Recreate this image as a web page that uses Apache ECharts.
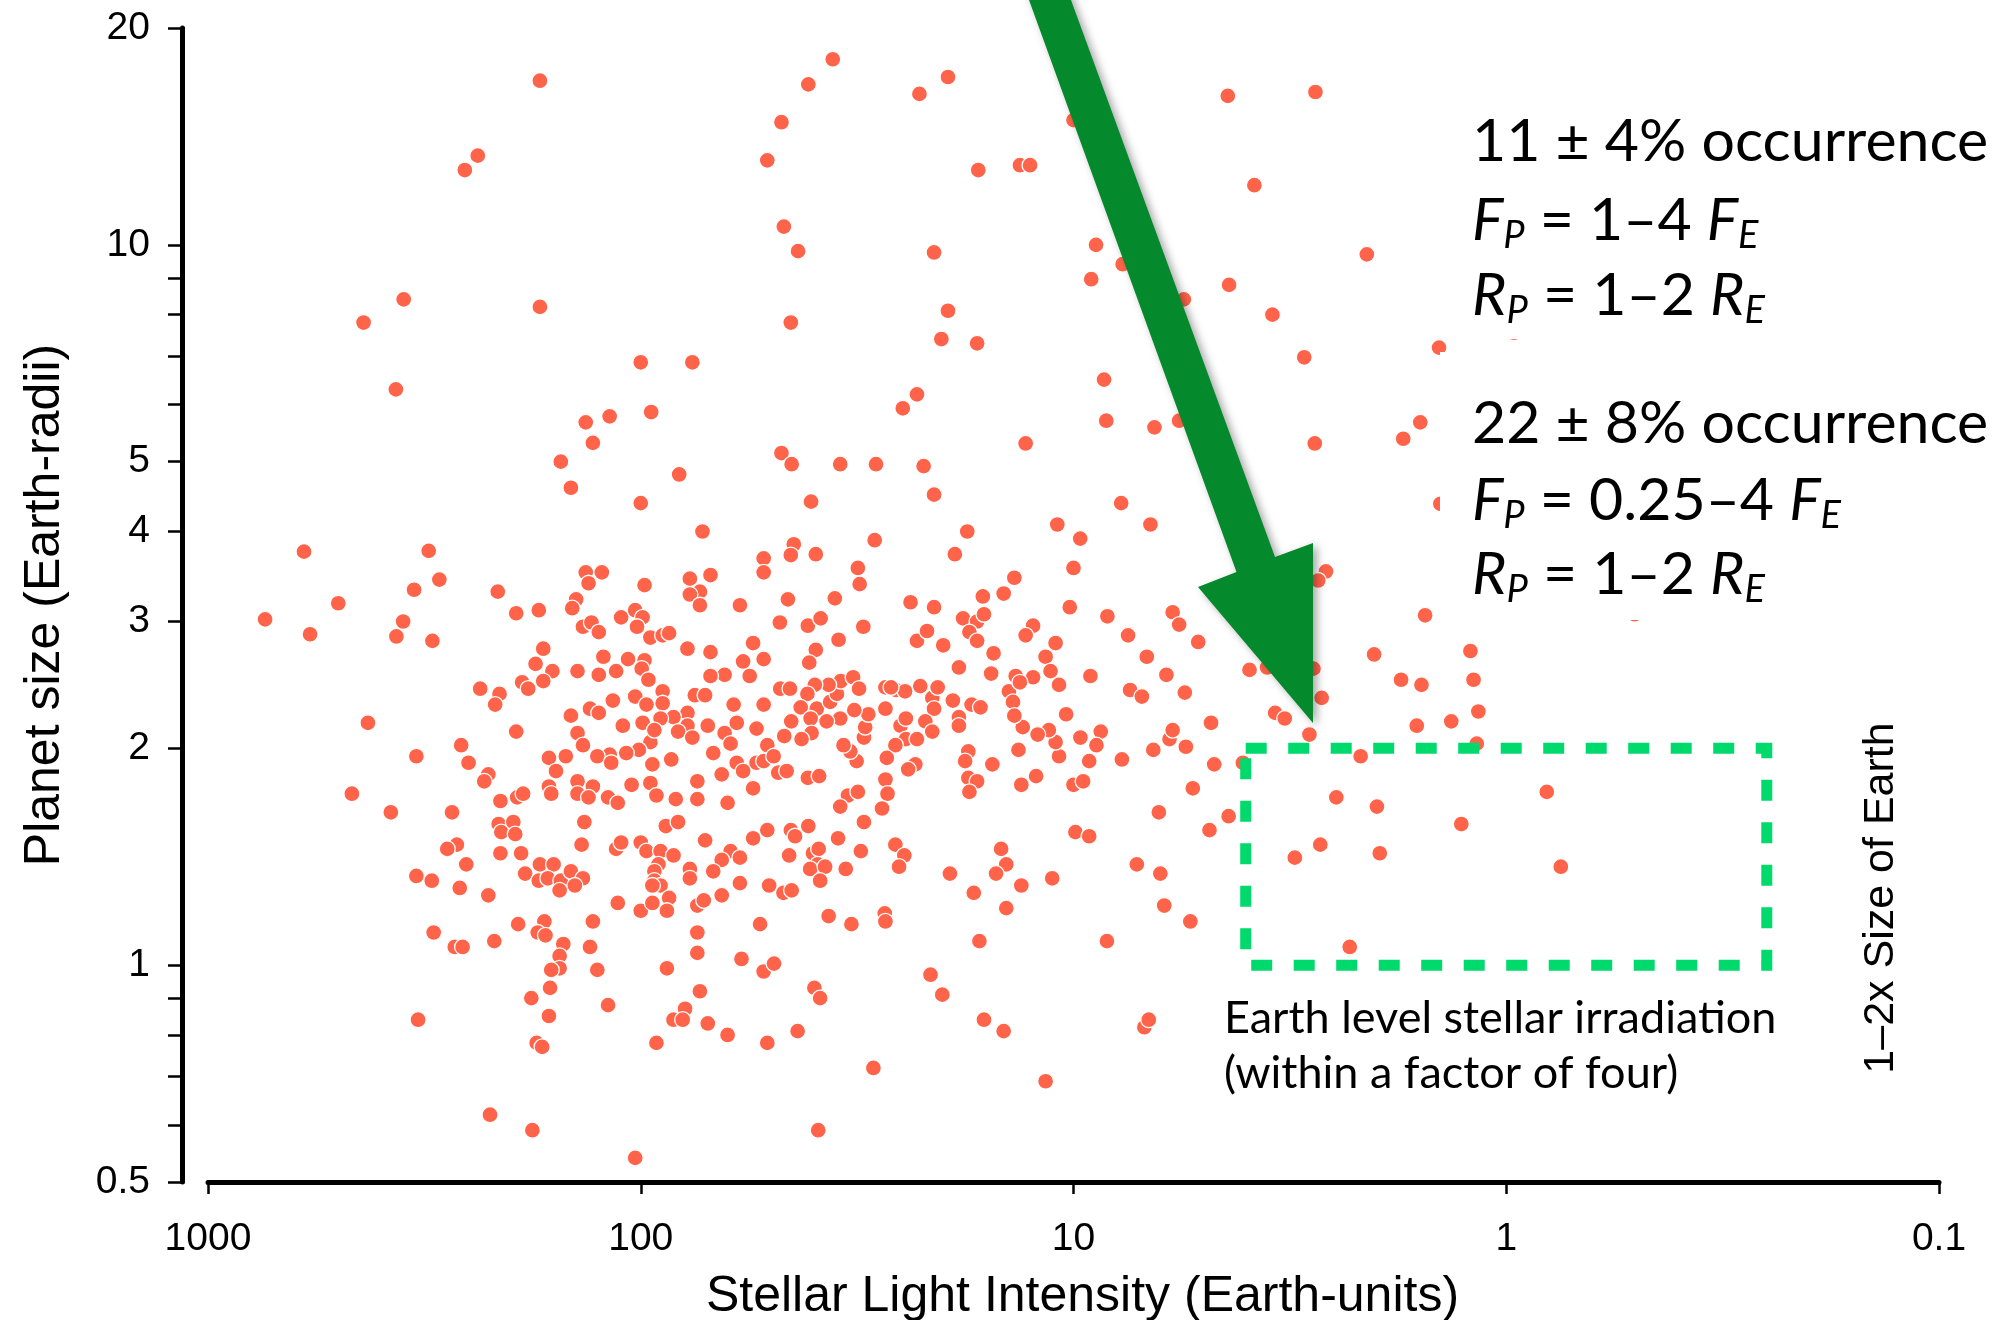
<!DOCTYPE html>
<html><head><meta charset="utf-8">
<script src="https://cdn.jsdelivr.net/npm/echarts@6/dist/echarts.min.js"></script>
<style>html,body{margin:0;padding:0;background:#fff}#chart{width:2003px;height:1320px}</style>
</head><body><div id="chart"></div>
<script>
// [stellar light intensity (Earth units), planet radius (Earth radii)]
const planetsHot = [[145,4.6],[100,4.38],[72,4.0],[600,3.75],[309,3.76],[292,3.43],[334,3.32],[500,3.18],[738,3.02],[581,2.88],
[354,3.0],[367,2.86],[303,2.82],[214,3.3],[194,3.08],[172,3.11],[134,3.51],[123,3.51],[132,3.39],[141,3.22],
[144,3.13],[98,3.37],[77,3.44],[69,3.48],[73,3.3],[77,3.27],[73,3.16],[59,3.16],[52,3.67],[52,3.51],
[136,2.95],[130,2.99],[125,2.9],[111,3.04],[103,3.11],[99,3.04],[102,2.95],[95,2.85],[89,2.87],[86,2.89],
[78,2.75],[69,2.72],[55,2.8],[58,2.64],[52,2.66],[56,2.52],[64,2.53],[69,2.52],[168,2.75],[175,2.62],
[160,2.56],[168,2.48],[188,2.47],[182,2.42],[235,2.42],[212,2.38],[217,2.3],[140,2.56],[125,2.53],[114,2.56],
[122,2.68],[107,2.66],[98,2.65],[99.5,2.58],[96,2.49],[89,2.4],[103,2.36],[97,2.3],[89,2.31],[116,2.33],
[131,2.27],[125,2.24],[145,2.22],[75,2.37],[71,2.37],[78,2.24],[84,2.21],[90,2.2],[78,2.15],[70,2.15],
[61,2.3],[60,2.17],[52,2.3],[54,2.13],[64,2.1],[62,2.03],[51,2.02],[68,1.97],[60,1.91],[54,1.91],
[58,1.86],[65,1.84],[55,1.76],[63,1.68],[74,1.7],[74,1.8],[83,1.7],[85,1.93],[94,1.9],[95,2.04],
[101,1.99],[108,1.97],[118,1.96],[126,1.95],[117,1.91],[99,2.17],[93,2.12],[110,2.15],[82,2.11],[76,2.07],
[140,2.1],[136,2.02],[149,1.95],[163,1.94],[157,1.86],[163,1.77],[161,1.73],[140,1.8],[129,1.77],[140,1.73],
[132,1.71],[119,1.71],[113,1.68],[105,1.78],[95,1.79],[92,1.72],[260,2.02],[250,1.91],[194,2.11],[225,1.84],
[230,1.8],[211,1.69],[193,1.71],[187,1.73],[427,2.17],[330,1.95],[465,1.73],[378,1.63],[273,1.63],[52,1.92]];

const planetsHotSmall = [[213,1.57],[197,1.58],[135,1.58],[266,1.47],[280,1.45],[253,1.38],[210,1.53],[195,1.52],[211,1.43],[189,1.43],
[330,1.33],[304,1.31],[262,1.28],[225,1.25],[171,1.38],[159,1.38],[185,1.34],[172,1.31],[164,1.32],[153,1.31],
[145,1.35],[136,1.32],[142,1.29],[154,1.27],[137,1.47],[114,1.45],[111,1.48],[100,1.48],[97,1.44],[90,1.44],
[84,1.42],[91,1.38],[93,1.35],[93,1.31],[90,1.29],[94,1.29],[87.5,1.56],[82,1.58],[71,1.49],[77,1.36],
[77,1.32],[62,1.44],[59,1.41],[65,1.4],[68,1.35],[59,1.3],[55,1.5],[51,1.54],[113,1.22],[100,1.19],
[94,1.22],[86,1.24],[87,1.19],[74,1.21],[71.5,1.23],[65,1.25],[50.5,1.29],[53,1.14],[74,1.11],[74,1.04],
[58.5,1.02],[52,0.98],[87,0.99],[129,1.15],[167,1.15],[192,1.14],[173,1.11],[166,1.1],[218,1.08],[301,1.11],
[269,1.06],[258,1.06],[151,1.07],[154,1.03],[154,0.99],[161,0.985],[131,1.06],[126,0.985],[162,0.93],[179,0.9],
[163,0.85],[119,0.88],[73,0.92],[79,0.87],[84,0.84],[80,0.84],[70,0.83],[63,0.8],[92,0.78],[51,0.78],
[327,0.84],[174,0.78],[169,0.77],[223,0.62],[178,0.59],[103,0.54]];

const planetsWarm = [[40.4,4.4],[21,4.5],[7.76,4.38],[10.9,4.09],[6.64,4.09],[9.65,3.91],[17.6,4.0],[28.8,3.89],[44.3,3.84],[45,3.71],
[39.4,3.72],[18.8,3.72],[10,3.56],[31.5,3.56],[31.2,3.38],[13.7,3.45],[14.5,3.28],[16.2,3.25],[10.2,3.14],[8.35,3.05],
[5.9,3.09],[5.7,2.97],[45.7,3.22],[35.6,3.23],[23.8,3.19],[21,3.14],[47.7,2.99],[41.1,2.96],[38.4,3.03],[30.6,2.95],
[34.9,2.83],[39.4,2.74],[40.8,2.63],[23,2.82],[21.8,2.91],[20,2.78],[18,3.03],[16.7,3.0],[16.1,3.07],[17.4,2.9],
[16.7,2.82],[15.3,2.71],[12.4,2.96],[12.9,2.87],[11,2.8],[11.6,2.68],[18.4,2.59],[15.5,2.54],[13.6,2.52],[12.4,2.51],
[11.3,2.56],[10.8,2.45],[14.1,2.4],[13.8,2.32],[13.3,2.47],[9.14,2.52],[7.48,2.87],[6.77,2.68],[5.15,2.81],[6.1,2.53],
[7.4,2.41],[6.95,2.36],[5.53,2.39],[3.92,2.57],[3.57,2.59],[3.42,2.24],[3.25,2.2],[4.81,2.17],[10.4,2.23],[8.65,2.11],
[9.64,2.07],[8.85,2.02],[9.2,1.92],[7.73,1.93],[10.8,1.95],[11,2.04],[11.4,2.12],[12.1,2.09],[13.1,2.14],[13.7,2.22],
[13.4,1.99],[12.2,1.83],[13.2,1.78],[10,1.78],[9.5,1.8],[15.4,1.9],[17.5,1.98],[17.8,1.92],[17.5,1.82],[16.7,1.8],
[17.4,1.74],[6.54,1.99],[6,2.06],[5.9,2.12],[5.5,2.01],[4.73,1.9],[5.3,1.76],[4.06,1.91],[6.35,1.63],[4.38,1.61],
[18.4,2.21],[19,2.33],[17.2,2.3],[16.4,2.28],[18.4,2.15],[21.2,2.35],[20.6,2.43],[21,2.27],[22,2.18],[21.2,2.11],
[22.6,2.44],[25.7,2.41],[24.5,2.4],[27.2,2.27],[25.1,2.15],[24.4,2.2],[24.4,2.06],[23,2.06],[25.8,2.02],[27,1.94],
[23.2,1.9],[24.1,1.87],[27.2,1.81],[26.9,1.73],[27.7,1.65],[33.2,1.72],[31.5,1.74],[34.6,1.66],[31.7,1.92],[32.8,1.98],
[34,2.02],[30.5,2.07],[30.3,2.14],[29.8,2.23],[32.1,2.26],[34.6,2.2],[37.2,2.18],[39.2,2.27],[36.5,2.32],[35.2,2.38],
[34.5,2.48],[32.3,2.51],[31.3,2.42],[36.8,2.45],[39.6,2.45],[41.2,2.38],[42.7,2.28],[40.5,2.2],[44.9,2.18],[47.6,2.42],
[45.2,2.42],[40.3,2.1],[42.5,2.06],[46.6,2.08],[49.3,1.95],[48.1,1.85],[46,1.86],[41.1,1.82],[38.7,1.83],[27.2,2.43],[26.4,2.43]];

const planetsWarmSmall = [[45,1.54],[44,1.51],[41,1.56],[35,1.5],[30.5,1.58],[45.4,1.42],[40,1.43],[38.8,1.45],[39,1.38],[40.6,1.36],
[37.5,1.37],[38.5,1.31],[33.6,1.36],[31,1.44],[46.8,1.26],[44.8,1.27],[25.8,1.47],[24.6,1.42],[25.3,1.37],[19.3,1.34],
[14.7,1.45],[14.3,1.38],[15.1,1.34],[13.2,1.29],[17,1.26],[14.3,1.2],[11.2,1.32],[9.9,1.53],[9.2,1.51],[7.14,1.38],
[6.3,1.34],[6.17,1.21],[5.37,1.15],[8.37,1.08],[4.85,1.54],[36.8,1.17],[32.6,1.14],[27.3,1.18],[27.2,1.15],[16.5,1.08],
[49.2,1.005],[21.4,0.97],[20.1,0.91],[39.7,0.93],[38.5,0.9],[43.4,0.81],[16.1,0.84],[14.5,0.81],[6.86,0.82],[6.7,0.84],
[29,0.72],[11.6,0.69],[38.9,0.59]];

const planetsLarge = [[171,16.9],[36,18.1],[41,16.7],[22.7,16.2],[19.5,17.1],[47.3,14.8],[51,13.1],[238,13.3],[255,12.7],[16.6,12.7],
[13.3,12.9],[12.6,12.9],[46.7,10.6],[43.3,9.8],[21,9.76],[4.4,16.1],[2.76,16.3],[3.82,12.1],[2.1,9.7],[8.87,10],
[10,14.9],[7.7,9.4],[9.1,8.96],[4.37,8.8],[5.56,8.4],[3.47,8.0],[1.43,7.2],[0.96,7.55],[2.93,6.98],[8.5,6.5],
[8.4,5.7],[6.5,5.58],[5.7,5.7],[12.9,5.3],[2.77,5.3],[1.58,5.67],[1.73,5.38],[1.42,4.37],[2.61,3.52],[2.72,3.42],
[1.54,3.06],[437,7.8],[353,8.4],[171,8.2],[368,6.3],[134,5.67],[118,5.78],[129,5.31],[153,5.0],[94.6,5.86],
[100,6.87],[76,6.87],[81.5,4.8],[47.3,5.14],[44.8,4.96],[34.6,4.96],[28.6,4.96],[22.2,4.93],[45,7.8],[24.8,5.93],
[23,6.2],[19.5,8.1],[20.2,7.4],[16.7,7.3]];

const planetsCool = [[2.67,2.35],[2.02,2.7],[2.17,1.95],[1.75,2.49],[1.57,2.45],[1.21,2.73],[1.19,2.49],[1.16,2.25],[1.34,2.18],[1.61,2.15],
[1.17,2.03],[2.47,1.71],[1.99,1.66],[2.69,1.47],[3.08,1.41],[1.96,1.43],[1.27,1.57],[0.806,1.74],[0.748,1.37],[2.3,1.06],
[2.85,2.09],[2.79,2.58],[0.505,3.07]];

const xTickValues = [1000, 100, 10, 1, 0.1];
const yTickValues = [0.5, 0.6, 0.7, 0.8, 0.9, 1, 2, 3, 4, 5, 6, 7, 8, 9, 10, 20];
const yLabelValues = [0.5, 1, 2, 3, 4, 5, 10, 20];
// Earth-like zone: flux 0.25–4 F_E, radius 1–2 R_E
const boxFlux = [4, 0.25, 0.25, 4, 4];
const boxRadius = [2, 2, 1, 1, 2];

const allPoints = [].concat(planetsHot, planetsHotSmall, planetsWarm, planetsWarmSmall, planetsLarge, planetsCool);
const fmt = v => String(+Math.pow(10, v).toPrecision(2));

const chart = echarts.init(document.getElementById('chart'), null, {width: 2003, height: 1320});
const baseFont = 'Liberation Sans, Arial, sans-serif';
const annFont = 'Lato, sans-serif';
const annSize = 59;
const sub = {fontSize: 38, fontStyle: 'italic', fontFamily: annFont, fill: '#000', padding: [30, 0, 0, 0]};
const ital = {fontSize: annSize, fontStyle: 'italic', fontFamily: annFont, fill: '#000'};
const norm = {fontSize: annSize, fontFamily: annFont, fill: '#000'};
function annLine(txt, y) {
  return {type: 'text', x: 1472, y: y, z: 30, style: {text: txt, rich: {i: ital, s: sub, n: norm},
    fontSize: annSize, fontFamily: annFont, fill: '#000', align: 'left', verticalAlign: 'middle'}};
}

chart.setOption({
  animation: false,
  backgroundColor: '#fff',
  grid: {left: 208, right: 64, top: 28, bottom: 138, containLabel: false, outerBoundsMode: 'none'},
  xAxis: [
    {type: 'log', min: 0.1, max: 1000, inverse: true, show: false},
    {type: 'value', min: -1, max: 3, inverse: true, position: 'bottom',
      axisLine: {show: true, onZero: false, lineStyle: {color: '#000', width: 5}},
      axisTick: {show: true, customValues: xTickValues.map(Math.log10), length: 12, lineStyle: {color: '#000', width: 2.5}},
      axisLabel: {customValues: xTickValues.map(Math.log10), margin: 38, fontSize: 39, fontFamily: baseFont, color: '#000', formatter: fmt},
      splitLine: {show: false},
      name: 'Stellar Light Intensity (Earth-units)', nameLocation: 'middle', nameGap: 90,
      nameTextStyle: {fontSize: 50, fontFamily: baseFont, color: '#000', padding: [0, 0, 0, 18]}}
  ],
  yAxis: [
    {type: 'log', min: 0.5, max: 20, show: false},
    {type: 'value', min: Math.log10(0.5), max: Math.log10(20), position: 'left', offset: 26,
      axisLine: {show: true, onZero: false, lineStyle: {color: '#000', width: 5}},
      axisTick: {show: true, customValues: yTickValues.map(Math.log10), length: 14, lineStyle: {color: '#000', width: 2.5}},
      axisLabel: {customValues: yLabelValues.map(Math.log10), margin: 32, fontSize: 39, fontFamily: baseFont, color: '#000', formatter: fmt},
      splitLine: {show: false},
      name: 'Planet size (Earth-radii)', nameLocation: 'middle', nameGap: 112, nameRotate: 90,
      nameTextStyle: {fontSize: 50, fontFamily: baseFont, color: '#000'}}
  ],
  series: [
    {type: 'scatter', xAxisIndex: 0, yAxisIndex: 0, data: allPoints, symbolSize: 16, z: 2, silent: true,
      itemStyle: {color: '#ff644b', borderColor: '#fff', borderWidth: 1.3, opacity: 1}},
    {type: 'line', xAxisIndex: 0, yAxisIndex: 0, data: boxFlux.map((f, i) => [f, boxRadius[i]]), symbol: 'none', z: 4, silent: true,
      lineStyle: {color: '#00d96b', width: 11, type: [21, 21.5], cap: 'butt', join: 'miter'}}
  ],
  graphic: {elements: [
    {type: 'rect', z: 20, shape: {x: 1450, y: 60, width: 560, height: 279}, style: {fill: '#fff'}},
    {type: 'rect', z: 20, shape: {x: 1440, y: 352, width: 570, height: 268}, style: {fill: '#fff'}},
    {type: 'polygon', z: 25, shape: {points: [[1025.4, -10], [1067.3, -10], [1275, 557], [1313, 543], [1313, 723], [1198, 587], [1236.5, 572]]},
      style: {fill: '#05892d', shadowBlur: 8, shadowColor: 'rgba(0,0,0,0.35)', shadowOffsetX: 4, shadowOffsetY: 3}},
    annLine('11 ± 4% occurrence', 142),
    annLine('{i|F}{s|P}{n| = 1–4 }{i|F}{s|E}', 221),
    annLine('{i|R}{s|P}{n| = 1–2 }{i|R}{s|E}', 296),
    annLine('22 ± 8% occurrence', 424),
    annLine('{i|F}{s|P}{n| = 0.25–4 }{i|F}{s|E}', 501),
    annLine('{i|R}{s|P}{n| = 1–2 }{i|R}{s|E}', 575),
    {type: 'text', x: 1224, y: 1018, z: 30, style: {text: 'Earth level stellar irradiation', fontSize: 45, fontFamily: annFont, fill: '#000', verticalAlign: 'middle'}},
    {type: 'text', x: 1224, y: 1073, z: 30, style: {text: '(within a factor of four)', fontSize: 45, fontFamily: annFont, fill: '#000', verticalAlign: 'middle'}},
    {type: 'text', x: 1881, y: 898, z: 30, rotation: Math.PI / 2, style: {text: '1–2x Size of Earth', fontSize: 43, fontFamily: baseFont, fill: '#000', align: 'center', verticalAlign: 'middle'}}
  ]}
});
</script></body></html>
